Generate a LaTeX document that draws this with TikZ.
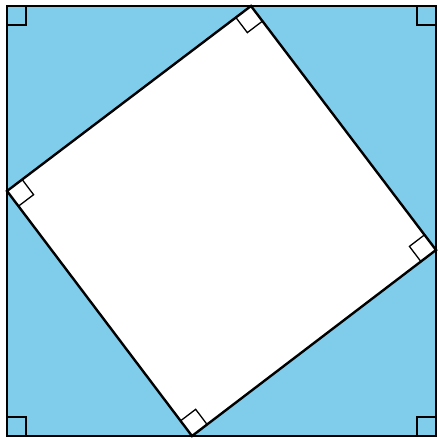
\documentclass[tikz,border=0pt]{standalone}
\usetikzlibrary{calc}
\definecolor{skyfill}{RGB}{127,205,235}
\begin{document}
\begin{tikzpicture}[x=1pt,y=-1pt,
  outerline/.style={line width=2pt,draw=black},
  innerline/.style={line width=2.4pt,draw=black,line join=miter},
  anglemark/.style={line width=1.3pt,draw=black}]
\useasboundingbox (0,0) rectangle (437,439);
% outer square corners
\coordinate (A) at (7,6);
\coordinate (B) at (436,6);
\coordinate (C) at (436,436);
\coordinate (D) at (7,436);
% inner square vertices
\coordinate (T) at (251,6);
\coordinate (R) at (436,250);
\coordinate (Bo) at (192,436);
\coordinate (L) at (7,191);
\fill[skyfill] (A) rectangle (C);
\fill[white] (T) -- (R) -- (Bo) -- (L) -- cycle;
% outer corner marks
\draw[anglemark] (7,25) -- (26,25) -- (26,6);
\draw[anglemark] (417,6) -- (417,25) -- (436,25);
\draw[anglemark] (436,417) -- (417,417) -- (417,436);
\draw[anglemark] (26,436) -- (26,417) -- (7,417);
% inner corner marks
\foreach \v/\p/\q in {T/L/R, R/T/Bo, Bo/R/L, L/Bo/T}{
  \coordinate (m1) at ($(\v)!19pt!(\p)$);
  \coordinate (m2) at ($(\v)!19pt!(\q)$);
  \draw[anglemark] (m1) -- ($(m1)+(m2)-(\v)$) -- (m2);
}
\draw[outerline] (A) rectangle (C);
\draw[innerline] (T) -- (R) -- (Bo) -- (L) -- cycle;
\end{tikzpicture}
\end{document}
